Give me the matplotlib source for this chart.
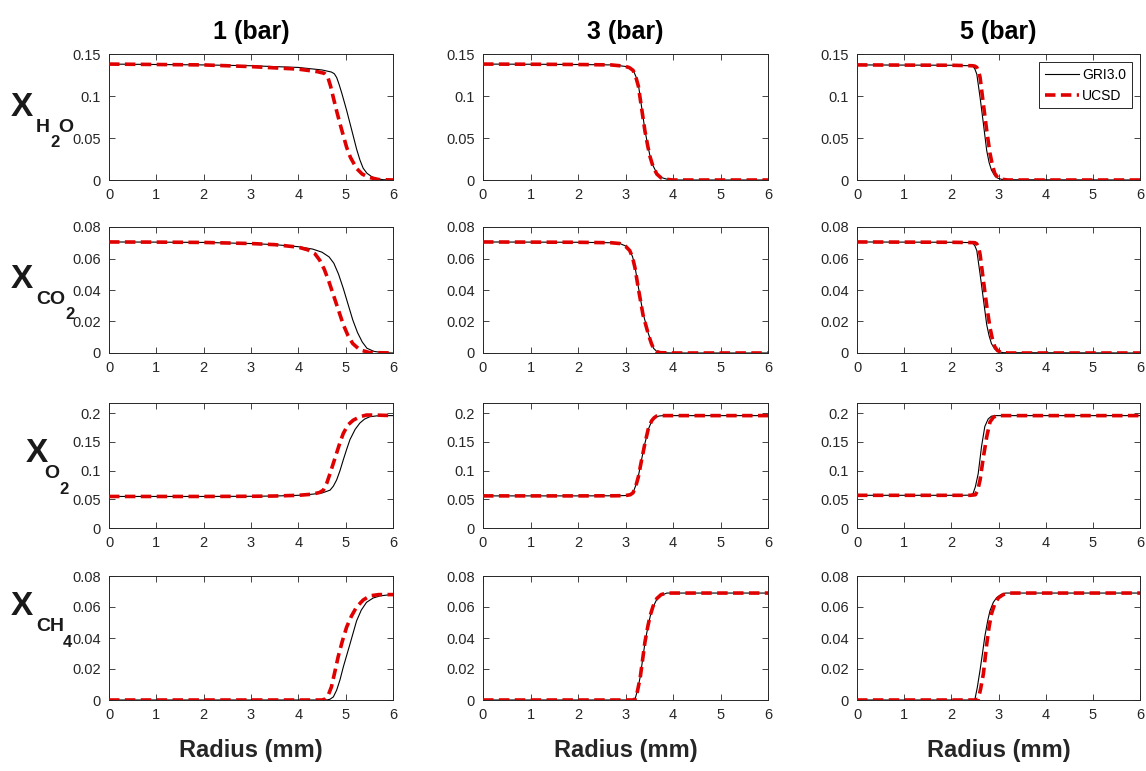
import matplotlib
matplotlib.use("Agg")
import matplotlib.pyplot as plt
from matplotlib.ticker import FuncFormatter

# ---------------- data ----------------
pressures = ["1 (bar)", "3 (bar)", "5 (bar)"]
series_names = ["GRI3.0", "UCSD"]
x_ticks = [0, 1, 2, 3, 4, 5, 6]

# H2O
h2o_1_gri_r = [0, 1, 2, 3, 4, 4.5, 4.7, 4.76, 4.81, 4.86, 4.92, 5.02, 5.13, 5.23, 5.3, 5.37, 5.45, 5.55, 5.65, 5.8, 6]
h2o_1_gri = [0.138, 0.1375, 0.137, 0.136, 0.134, 0.131, 0.1285, 0.1265, 0.122, 0.114, 0.103, 0.083, 0.059, 0.037, 0.024, 0.014, 0.008, 0.004, 0.0015, 0.0003, 0]
h2o_1_ucsd_r = [0, 1, 2, 3, 4, 4.4, 4.55, 4.62, 4.68, 4.74, 4.81, 4.88, 4.95, 5.02, 5.1, 5.23, 5.35, 5.5, 5.7, 6]
h2o_1_ucsd = [0.138, 0.1375, 0.137, 0.135, 0.132, 0.129, 0.127, 0.123, 0.112, 0.098, 0.082, 0.067, 0.053, 0.039, 0.027, 0.0138, 0.007, 0.003, 0.0005, 0]

h2o_3_gri_r = [0, 1, 2, 2.7, 2.88, 3.0, 3.08, 3.16, 3.22, 3.27, 3.34, 3.41, 3.47, 3.52, 3.58, 3.66, 3.75, 3.87, 4, 6]
h2o_3_gri = [0.138, 0.1378, 0.1375, 0.137, 0.136, 0.1352, 0.134, 0.131, 0.123, 0.114, 0.0866, 0.059, 0.041, 0.0275, 0.017, 0.008, 0.003, 0.001, 0, 0]
h2o_3_ucsd_r = [0, 1, 2, 2.7, 2.88, 3.0, 3.08, 3.16, 3.22, 3.27, 3.34, 3.41, 3.47, 3.52, 3.58, 3.66, 3.75, 3.87, 4, 6]
h2o_3_ucsd = [0.138, 0.1378, 0.1375, 0.137, 0.136, 0.1352, 0.1338, 0.1305, 0.122, 0.112, 0.085, 0.058, 0.040, 0.027, 0.016, 0.007, 0.0025, 0.0008, 0, 0]

h2o_5_gri_r = [0, 1, 2, 2.4, 2.46, 2.5, 2.54, 2.61, 2.68, 2.75, 2.8, 2.85, 2.92, 2.99, 3.1, 6]
h2o_5_gri = [0.137, 0.1368, 0.1366, 0.136, 0.1352, 0.132, 0.126, 0.098, 0.067, 0.035, 0.021, 0.012, 0.005, 0.002, 0.0003, 0]
h2o_5_ucsd_r = [0, 1, 2, 2.45, 2.5, 2.54, 2.58, 2.61, 2.68, 2.75, 2.82, 2.87, 2.92, 2.98, 3.05, 3.2, 6]
h2o_5_ucsd = [0.137, 0.1368, 0.1366, 0.136, 0.1355, 0.134, 0.129, 0.122, 0.09, 0.059, 0.0315, 0.018, 0.008, 0.003, 0.001, 0, 0]

# CO2
co2_1_gri_r = [0, 1, 2, 3, 3.5, 4, 4.3, 4.5, 4.65, 4.75, 4.85, 4.95, 5.05, 5.15, 5.25, 5.35, 5.45, 5.6, 5.8, 6]
co2_1_gri = [0.0705, 0.0704, 0.0702, 0.0695, 0.0688, 0.0675, 0.066, 0.064, 0.061, 0.057, 0.050, 0.041, 0.031, 0.021, 0.013, 0.007, 0.003, 0.001, 0.0002, 0]
co2_1_ucsd_r = [0, 1, 2, 3, 3.5, 4, 4.2, 4.35, 4.45, 4.55, 4.65, 4.75, 4.85, 4.95, 5.05, 5.15, 5.3, 5.5, 6]
co2_1_ucsd = [0.0705, 0.0704, 0.0702, 0.0695, 0.0688, 0.0672, 0.0655, 0.063, 0.059, 0.053, 0.045, 0.036, 0.027, 0.018, 0.011, 0.006, 0.002, 0.0003, 0]

co2_3_gri_r = [0, 1, 2, 2.7, 2.88, 3.0, 3.09, 3.15, 3.2, 3.27, 3.37, 3.48, 3.54, 3.59, 3.65, 3.73, 4, 6]
co2_3_gri = [0.0705, 0.0704, 0.0703, 0.070, 0.0695, 0.068, 0.0654, 0.061, 0.0548, 0.042, 0.0252, 0.0125, 0.007, 0.003, 0.0012, 0.0002, 0, 0]
co2_3_ucsd_r = [0, 1, 2, 2.7, 2.88, 3.0, 3.09, 3.15, 3.2, 3.27, 3.37, 3.48, 3.54, 3.59, 3.65, 3.73, 4, 6]
co2_3_ucsd = [0.0705, 0.0704, 0.0703, 0.070, 0.0695, 0.0678, 0.065, 0.0605, 0.054, 0.041, 0.024, 0.012, 0.0065, 0.0028, 0.001, 0.0002, 0, 0]

co2_5_gri_r = [0, 1, 2, 2.4, 2.46, 2.5, 2.54, 2.61, 2.68, 2.75, 2.8, 2.85, 2.92, 2.99, 3.1, 6]
co2_5_gri = [0.0705, 0.0704, 0.0703, 0.0701, 0.0695, 0.068, 0.065, 0.050, 0.034, 0.018, 0.011, 0.006, 0.0025, 0.001, 0.0002, 0]
co2_5_ucsd_r = [0, 1, 2, 2.45, 2.5, 2.54, 2.58, 2.61, 2.68, 2.75, 2.82, 2.87, 2.92, 2.98, 3.05, 3.2, 6]
co2_5_ucsd = [0.0705, 0.0704, 0.0703, 0.0701, 0.070, 0.0693, 0.0668, 0.0625, 0.046, 0.030, 0.016, 0.009, 0.004, 0.0015, 0.0005, 0, 0]

# O2
o2_1_gri_r = [0, 1, 2, 3, 3.5, 4, 4.3, 4.5, 4.67, 4.74, 4.81, 4.88, 4.95, 5.02, 5.09, 5.2, 5.3, 5.4, 5.51, 5.65, 5.8, 6]
o2_1_gri = [0.055, 0.055, 0.055, 0.0553, 0.0558, 0.057, 0.059, 0.061, 0.066, 0.073, 0.084, 0.1, 0.119, 0.137, 0.154, 0.172, 0.183, 0.19, 0.194, 0.1955, 0.196, 0.196]
o2_1_ucsd_r = [0, 1, 2, 3, 3.5, 4, 4.3, 4.45, 4.53, 4.6, 4.67, 4.74, 4.81, 4.88, 4.95, 5.05, 5.16, 5.3, 5.44, 5.6, 6]
o2_1_ucsd = [0.055, 0.055, 0.055, 0.0553, 0.0558, 0.057, 0.059, 0.062, 0.066, 0.078, 0.095, 0.113, 0.131, 0.149, 0.165, 0.18, 0.188, 0.194, 0.197, 0.197, 0.196]

o2_3_gri_r = [0, 1, 2, 2.8, 3.0, 3.1, 3.16, 3.22, 3.27, 3.34, 3.41, 3.48, 3.55, 3.6, 3.65, 3.72, 3.8, 4, 6]
o2_3_gri = [0.056, 0.056, 0.056, 0.0562, 0.0566, 0.058, 0.062, 0.075, 0.09, 0.12, 0.148, 0.172, 0.186, 0.191, 0.194, 0.1955, 0.196, 0.196, 0.196]
o2_3_ucsd_r = [0, 1, 2, 2.8, 3.0, 3.1, 3.16, 3.22, 3.27, 3.34, 3.41, 3.48, 3.55, 3.6, 3.65, 3.72, 3.8, 4, 6]
o2_3_ucsd = [0.056, 0.056, 0.056, 0.0562, 0.0566, 0.058, 0.0615, 0.074, 0.089, 0.119, 0.148, 0.173, 0.187, 0.192, 0.195, 0.196, 0.196, 0.196, 0.196]

o2_5_gri_r = [0, 1, 2, 2.4, 2.46, 2.51, 2.57, 2.64, 2.71, 2.78, 2.85, 2.95, 6]
o2_5_gri = [0.057, 0.057, 0.057, 0.0572, 0.06, 0.072, 0.095, 0.142, 0.177, 0.19, 0.195, 0.196, 0.196]
o2_5_ucsd_r = [0, 1, 2, 2.4, 2.51, 2.56, 2.61, 2.68, 2.75, 2.82, 2.89, 2.96, 6]
o2_5_ucsd = [0.057, 0.057, 0.057, 0.057, 0.058, 0.066, 0.084, 0.124, 0.159, 0.185, 0.193, 0.196, 0.196]

# CH4
ch4_1_gri_r = [0, 1, 2, 3, 4, 4.6, 4.67, 4.74, 4.81, 4.88, 4.95, 5.09, 5.23, 5.33, 5.44, 5.58, 5.73, 5.96, 6]
ch4_1_gri = [0, 0, 0, 0, 0, 0, 0.0005, 0.002, 0.0064, 0.013, 0.0213, 0.036, 0.051, 0.058, 0.063, 0.0658, 0.0672, 0.068, 0.068]
ch4_1_ucsd_r = [0, 1, 2, 3, 4, 4.5, 4.56, 4.63, 4.7, 4.77, 4.84, 4.93, 5.02, 5.12, 5.23, 5.37, 5.51, 5.7, 5.9, 6]
ch4_1_ucsd = [0, 0, 0, 0, 0, 0, 0.0005, 0.003, 0.0085, 0.018, 0.0277, 0.038, 0.047, 0.054, 0.06, 0.0645, 0.0672, 0.068, 0.068, 0.068]

ch4_3_gri_r = [0, 1, 2, 3, 3.15, 3.2, 3.25, 3.31, 3.36, 3.41, 3.47, 3.52, 3.58, 3.66, 3.75, 3.87, 4, 6]
ch4_3_gri = [0, 0, 0, 0, 0, 0.0005, 0.006, 0.015, 0.026, 0.037, 0.047, 0.054, 0.06, 0.065, 0.0675, 0.069, 0.069, 0.069]
ch4_3_ucsd_r = [0, 1, 2, 3, 3.15, 3.2, 3.25, 3.31, 3.36, 3.41, 3.47, 3.52, 3.58, 3.66, 3.75, 3.87, 4, 6]
ch4_3_ucsd = [0, 0, 0, 0, 0, 0.0004, 0.0055, 0.0145, 0.026, 0.0375, 0.0475, 0.0545, 0.0605, 0.0655, 0.068, 0.069, 0.069, 0.069]

ch4_5_gri_r = [0, 1, 2, 2.45, 2.5, 2.55, 2.61, 2.66, 2.71, 2.77, 2.82, 2.89, 2.96, 3.05, 3.15, 6]
ch4_5_gri = [0, 0, 0, 0, 0.0005, 0.008, 0.0195, 0.03, 0.041, 0.051, 0.0576, 0.063, 0.066, 0.068, 0.069, 0.069]
ch4_5_ucsd_r = [0, 1, 2, 2.5, 2.57, 2.62, 2.68, 2.75, 2.8, 2.85, 2.92, 3.0, 3.1, 3.2, 6]
ch4_5_ucsd = [0, 0, 0, 0, 0.0005, 0.007, 0.017, 0.036, 0.047, 0.0555, 0.062, 0.066, 0.068, 0.069, 0.069]

row_ylims = [0.15, 0.08, 0.218, 0.08]
row_yticks = [[0, 0.05, 0.1, 0.15], [0, 0.02, 0.04, 0.06, 0.08],
              [0, 0.05, 0.1, 0.15, 0.2], [0, 0.02, 0.04, 0.06, 0.08]]

table = [
    [(h2o_1_gri_r, h2o_1_gri, h2o_1_ucsd_r, h2o_1_ucsd),
     (h2o_3_gri_r, h2o_3_gri, h2o_3_ucsd_r, h2o_3_ucsd),
     (h2o_5_gri_r, h2o_5_gri, h2o_5_ucsd_r, h2o_5_ucsd)],
    [(co2_1_gri_r, co2_1_gri, co2_1_ucsd_r, co2_1_ucsd),
     (co2_3_gri_r, co2_3_gri, co2_3_ucsd_r, co2_3_ucsd),
     (co2_5_gri_r, co2_5_gri, co2_5_ucsd_r, co2_5_ucsd)],
    [(o2_1_gri_r, o2_1_gri, o2_1_ucsd_r, o2_1_ucsd),
     (o2_3_gri_r, o2_3_gri, o2_3_ucsd_r, o2_3_ucsd),
     (o2_5_gri_r, o2_5_gri, o2_5_ucsd_r, o2_5_ucsd)],
    [(ch4_1_gri_r, ch4_1_gri, ch4_1_ucsd_r, ch4_1_ucsd),
     (ch4_3_gri_r, ch4_3_gri, ch4_3_ucsd_r, ch4_3_ucsd),
     (ch4_5_gri_r, ch4_5_gri, ch4_5_ucsd_r, ch4_5_ucsd)],
]

# ---------------- style ----------------
plt.rcParams['font.family'] = ['Liberation Sans', 'DejaVu Sans']
W, H = 1146, 771
fig = plt.figure(figsize=(W / 100, H / 100), dpi=100)

col_px = [(109, 393), (483, 768), (857, 1140)]
row_px = [(54, 180), (227, 353), (403, 528), (576, 700)]
tick_col = '#262626'

fmt = FuncFormatter(lambda v, p: ('%g' % round(v, 4)))

for i in range(4):
    for j in range(3):
        l, r = col_px[j]
        t, b = row_px[i]
        ax = fig.add_axes([l / W, 1 - b / H, (r - l) / W, (b - t) / H])
        gx, gy, ux, uy = table[i][j]
        ax.plot(gx, gy, color='black', lw=0.8, label=series_names[0], zorder=2)
        ax.plot(ux, uy, color='#e00000', lw=2.6, ls=(0, (2.9, 1.5)),
                label=series_names[1], zorder=3)
        ax.set_xlim(0, 6)
        ax.set_ylim(0, row_ylims[i])
        ax.set_xticks(x_ticks)
        ax.set_yticks(row_yticks[i])
        ax.yaxis.set_major_formatter(fmt)
        ax.tick_params(direction='in', top=True, right=True, length=4,
                       width=0.6, labelsize=10.5, colors=tick_col, pad=6)
        for s in ax.spines.values():
            s.set_color(tick_col)
            s.set_linewidth(0.7)
        if i == 0:
            ax.set_title(pressures[j], fontsize=18, fontweight='bold', pad=11)
        if i == 3:
            ax.set_xlabel('Radius (mm)', fontsize=17, fontweight='bold',
                          labelpad=12, color='#262626')
        if i == 0 and j == 2:
            leg = ax.legend(loc='upper right', fontsize=10, handlelength=2.5,
                            fancybox=False, framealpha=1, edgecolor='#262626',
                            borderaxespad=0.6, borderpad=0.4, handletextpad=0.2,
                            labelspacing=0.5)
            leg.get_frame().set_linewidth(0.7)


def ftext(x, y, s, size):
    fig.text(x / W, 1 - y / H, s, fontsize=size, fontweight='bold',
             ha='left', va='baseline', color='#1a1a1a')


# Row labels built from pieces: (x_px, baseline_px, text, size)
label_pieces = [
    [(11, 116, 'X', 24), (36, 132, 'H', 14), (50, 147, '2', 12), (58, 132, 'O', 14)],
    [(11, 288, 'X', 24), (36, 304, 'CO', 14), (65, 319, '2', 12)],
    [(26, 462, 'X', 24), (44, 478, 'O', 14), (59, 494, '2', 12)],
    [(11, 615, 'X', 24), (36, 631, 'CH', 14), (63, 647, '4', 12)],
]
for pieces in label_pieces:
    for (px, py, s, sz) in pieces:
        ftext(px, py, s, sz)

fig.savefig('out.png', dpi=100)
